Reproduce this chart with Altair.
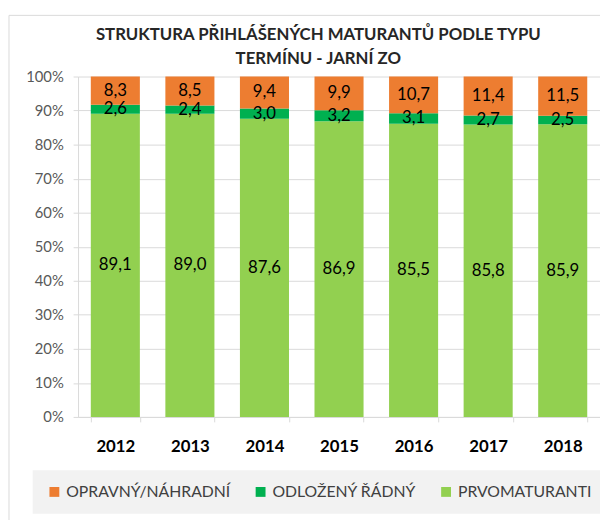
import altair as alt
import pandas as pd

years = ["2012", "2013", "2014", "2015", "2016", "2017", "2018"]
series = ["OPRAVNÝ/NÁHRADNÍ", "ODLOŽENÝ ŘÁDNÝ", "PRVOMATURANTI"]
colors = ["#ED7D31", "#00B050", "#92D050"]
prvo = [89.1, 89.0, 87.6, 86.9, 85.5, 85.8, 85.9]
odloz = [2.6, 2.4, 3.0, 3.2, 3.1, 2.7, 2.5]
oprav = [8.3, 8.5, 9.4, 9.9, 10.7, 11.4, 11.5]
yticks = [0, 0.1, 0.2, 0.3, 0.4, 0.5, 0.6, 0.7, 0.8, 0.9, 1.0]

rows = []
for i, y in enumerate(years):
    for order, (name, vals) in enumerate([(series[2], prvo), (series[1], odloz), (series[0], oprav)]):
        v = vals[i]
        rows.append({"year": y, "series": name, "value": v, "order": order,
                     "label": f"{v:.1f}".replace(".", ",")})
df = pd.DataFrame(rows)

FONT = "Lato"

base = alt.Chart(df).transform_stack(
    stack="value", groupby=["year"], as_=["v0", "v1"], offset="normalize",
    sort=[alt.SortField("order", order="ascending")]
).transform_calculate(mid="(datum.v0 + datum.v1) / 2")

xaxis = alt.Axis(tickBand="extent", tickSize=5, tickColor="#d9d9d9",
                 domainColor="#d9d9d9", labelFont=FONT, labelFontSize=17,
                 labelFontWeight="bold", labelColor="#000000",
                 labelPadding=17, labelAngle=0, grid=False)
yaxis = alt.Axis(format=".0%", values=yticks, labelOverlap=False,
                 labelFont=FONT, labelFontSize=15, labelColor="#595959",
                 tickColor="#d9d9d9", tickSize=5, domainColor="#d9d9d9",
                 gridColor="#d9d9d9", labelPadding=10)
xscale = alt.Scale(paddingInner=0.342, paddingOuter=0.171)
yscale = alt.Scale(domain=[0, 1])

bars = base.mark_bar().encode(
    x=alt.X("year:N", sort=years, title=None, scale=xscale, axis=xaxis),
    y=alt.Y("v0:Q", scale=yscale, title=None, axis=yaxis),
    y2="v1:Q",
    color=alt.Color("series:N", scale=alt.Scale(domain=series, range=colors),
                    legend=alt.Legend(orient="none", legendX=-46, legendY=399,
                                      direction="horizontal", title=None,
                                      fillColor="#f2f2f2", padding=14,
                                      symbolType="square", symbolSize=100,
                                      symbolStrokeWidth=0, labelFont=FONT,
                                      labelFontSize=16, labelColor="#404040",
                                      labelLimit=400, columnPadding=22,
                                      labelOffset=4)),
)

labels = base.mark_text(font=FONT, fontSize=17, color="#000000", baseline="middle").encode(
    x=alt.X("year:N", sort=years, title=None, scale=xscale, axis=xaxis),
    y=alt.Y("mid:Q", scale=yscale, title=None, axis=yaxis),
    text="label:N",
)

frame_df = pd.DataFrame({"a": [0]})
frame_top = alt.Chart(frame_df).mark_rule(color="#d9d9d9", strokeWidth=1).encode(
    x=alt.value(-70), x2=alt.value(620), y=alt.value(-62))
frame_left = alt.Chart(frame_df).mark_rule(color="#d9d9d9", strokeWidth=1).encode(
    x=alt.value(-70), y=alt.value(-62), y2=alt.value(520))

chart = alt.layer(frame_top, frame_left, bars, labels).properties(
    width=529, height=345,
    padding={"left": 71, "top": 66, "right": 0, "bottom": 101},
    autosize=alt.AutoSizeParams(type="none"),
    title=alt.TitleParams(["STRUKTURA PŘIHLÁŠENÝCH MATURANTŮ PODLE TYPU", "TERMÍNU - JARNÍ ZO"],
                          font=FONT, fontSize=17, fontWeight="bold", color="#262626",
                          anchor="middle", dx=-21, offset=-54, lineHeight=25),
).configure_view(strokeWidth=0)

chart.save("out.html", embed_options={"renderer": "svg", "actions": False})
